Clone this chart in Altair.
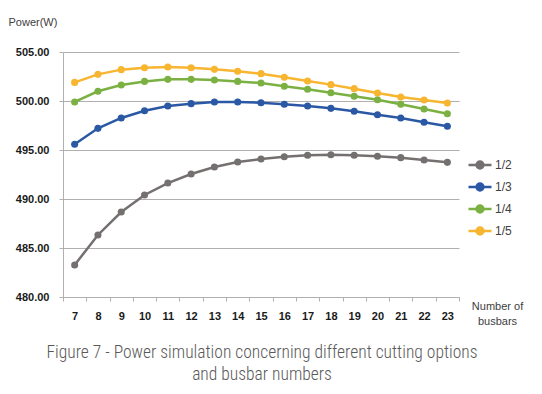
import altair as alt
import pandas as pd

busbars = list(range(7, 24))
series_names = ["1/2", "1/3", "1/4", "1/5"]
s_half = [483.27, 486.33, 488.67, 490.41, 491.63, 492.55, 493.27, 493.78, 494.08,
          494.32, 494.46, 494.52, 494.46, 494.36, 494.22, 493.98, 493.74]
s_third = [495.58, 497.21, 498.27, 499.01, 499.49, 499.73, 499.90, 499.90, 499.83,
           499.66, 499.49, 499.25, 498.95, 498.60, 498.27, 497.83, 497.42]
s_quarter = [499.90, 500.99, 501.63, 502.00, 502.21, 502.21, 502.14, 502.00, 501.84,
             501.50, 501.19, 500.85, 500.48, 500.13, 499.66, 499.18, 498.70]
s_fifth = [501.90, 502.72, 503.20, 503.40, 503.47, 503.40, 503.23, 503.03, 502.79,
           502.42, 502.04, 501.67, 501.26, 500.82, 500.41, 500.10, 499.80]
colors = ["#757070", "#2b58a4", "#7bb142", "#f8b530"]
y_ticks = [480, 485, 490, 495, 500, 505]
caption = ["Figure 7 - Power simulation concerning different cutting options",
           "and busbar numbers"]

rows = []
for name, vals in zip(series_names, [s_half, s_third, s_quarter, s_fifth]):
    for b, v in zip(busbars, vals):
        rows.append({"busbars": b, "power": v, "series": name})
df = pd.DataFrame(rows)

GRID = "#b0b0b0"
x_enc = alt.X("busbars:O", bandPosition=0.5,
              scale=alt.Scale(type="band", paddingInner=0, paddingOuter=0),
              axis=alt.Axis(title=["Number of", "busbars"], titleX=434, titleY=3,
                            titleBaseline="top", titleAlign="center",
                            titleFontSize=11, titleFontWeight="normal",
                            titleFont="Liberation Sans", titleColor="#404040",
                            titleLineHeight=15,
                            labelAngle=0, labelFont="Liberation Sans",
                            labelFontWeight="bold", labelFontSize=11,
                            labelColor="#1a1a1a", labelPadding=9,
                            tickBand="extent", tickSize=4, tickColor=GRID,
                            domainColor=GRID, grid=False))
y_enc = alt.Y("power:Q", scale=alt.Scale(domain=[480, 505], nice=False, zero=False),
              axis=alt.Axis(values=y_ticks, format=".2f", title="Power(W)",
                            titleAngle=0, titleX=-55, titleY=-30,
                            titleAlign="left", titleBaseline="middle",
                            titleFontSize=11, titleFontWeight="normal",
                            titleFont="Liberation Sans", titleColor="#404040",
                            labelFont="Liberation Sans", labelFontWeight="bold",
                            labelFontSize=11, labelColor="#1a1a1a",
                            labelPadding=10, tickSize=4, tickColor=GRID,
                            domainColor=GRID, gridColor=GRID, gridWidth=1))
color_enc = alt.Color("series:N",
                      scale=alt.Scale(domain=series_names, range=colors),
                      legend=alt.Legend(title=None, orient="none",
                                        legendX=404, legendY=100,
                                        symbolType="M-1,0L1,0M-0.3,0A0.3,0.3,0,1,1,0.3,0A0.3,0.3,0,1,1,-0.3,0Z",
                                        symbolSize=529, symbolStrokeWidth=2.5,
                                        labelFont="Liberation Sans", labelFontSize=12,
                                        labelColor="#404040", labelOffset=2,
                                        rowPadding=-1.7))

base = alt.Chart(df)
lines = base.mark_line(strokeWidth=2.5).encode(x=x_enc, y=y_enc, color=color_enc)
points = base.mark_point(filled=True, size=50, opacity=1).encode(
    x=x_enc, y=y_enc, color=color_enc)

CAP_FONT = "Roboto Condensed, Roboto, sans-serif"
cap_df = pd.DataFrame({"line": caption, "idx": [0, 1]})
cap1 = alt.Chart(cap_df).transform_filter("datum.idx == 0").mark_text(
    font=CAP_FONT, fontSize=17.5, color="#595959", fontWeight=300,
    align="center", baseline="alphabetic").encode(
    text="line:N", x=alt.value(199), y=alt.value(306))
cap2 = alt.Chart(cap_df).transform_filter("datum.idx == 1").mark_text(
    font=CAP_FONT, fontSize=17.5, color="#595959", fontWeight=300,
    align="center", baseline="alphabetic").encode(
    text="line:N", x=alt.value(199), y=alt.value(328))

chart = alt.layer(lines, points, cap1, cap2).properties(
    width=396, height=245,
    autosize=alt.AutoSizeParams(type="none"),
    padding={"left": 55, "top": 44, "right": 75, "bottom": 89},
    background="white",
).configure_view(stroke=None)

chart.save("out.html", embed_options={"renderer": "svg", "actions": False})
